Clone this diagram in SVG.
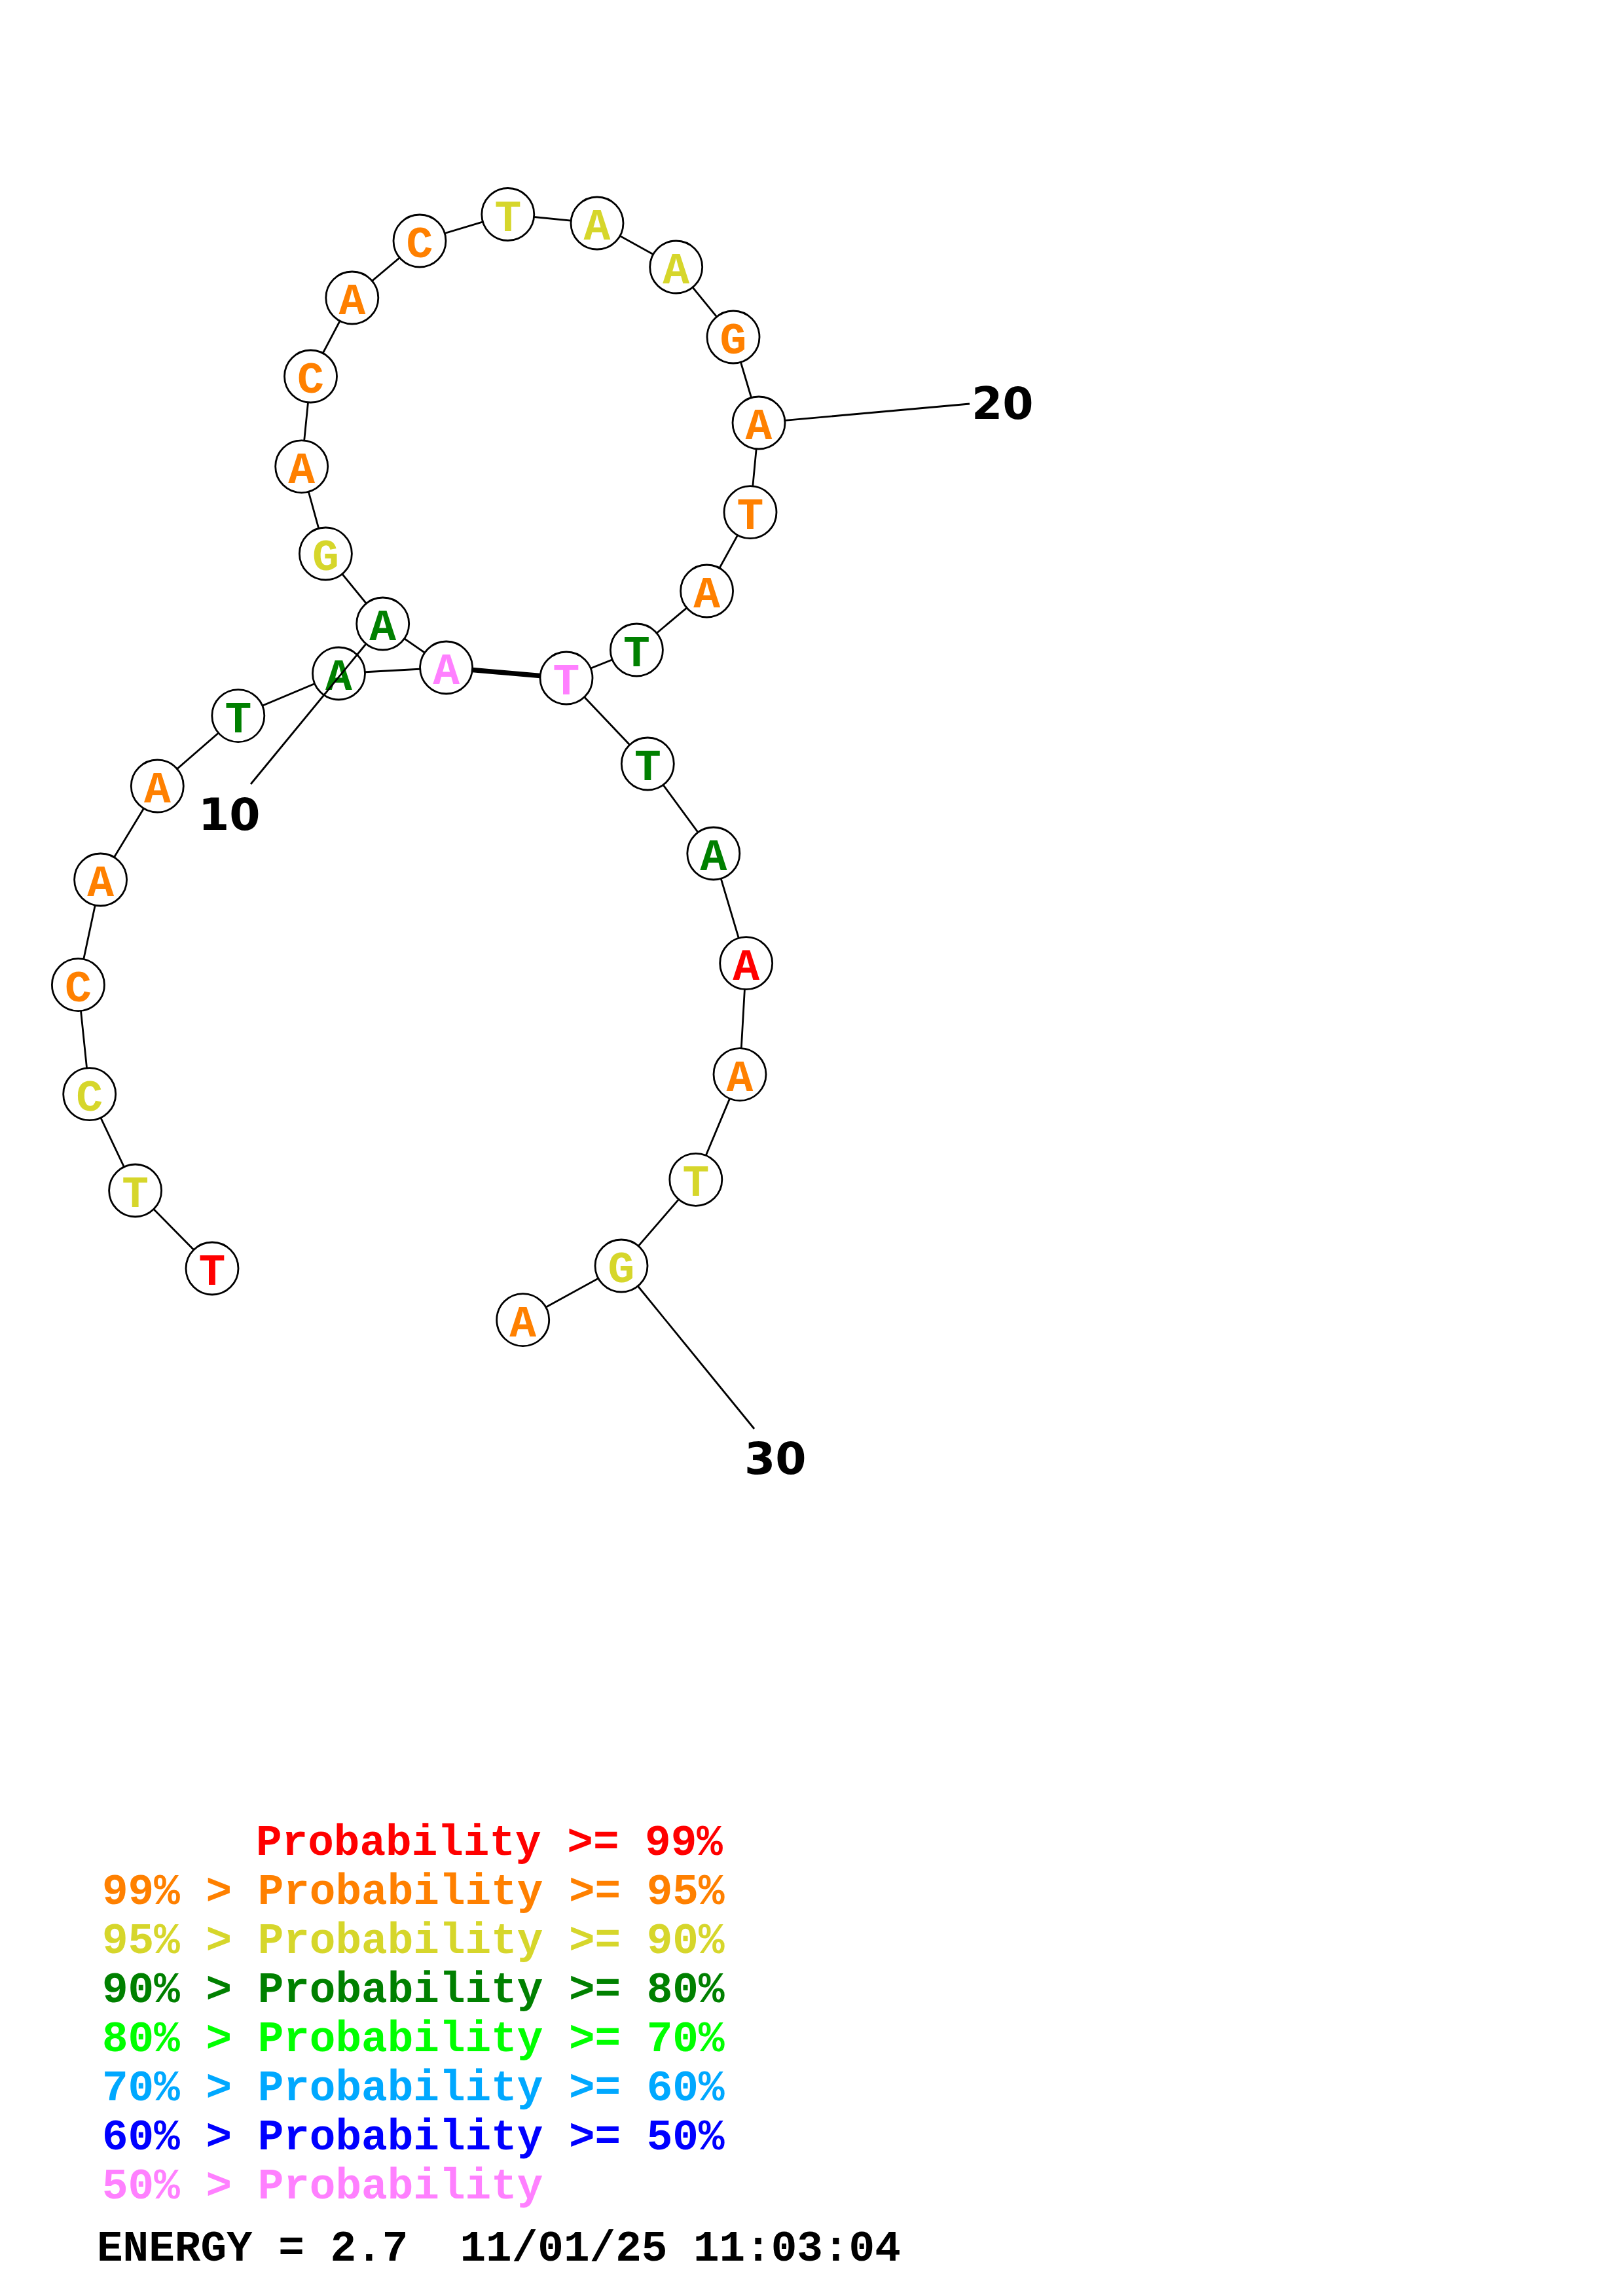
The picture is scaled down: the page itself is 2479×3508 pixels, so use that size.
<svg xmlns="http://www.w3.org/2000/svg" width="2479" height="3508" viewBox="0 0 2479 3508">
<style>
.bb{stroke:#000;stroke-width:2.8;fill:none}
.pair{stroke:#000;stroke-width:7.5;fill:none}
.nc{fill:#fff;stroke:#000;stroke-width:2.8}
.nt{font-family:"Liberation Mono","Courier New",monospace;font-weight:bold;font-size:68px;text-anchor:middle}
.lab{font-family:"DejaVu Sans","Liberation Sans",sans-serif;font-weight:bold;font-size:68px;fill:#000}
.leg{font-family:"Liberation Mono","Courier New",monospace;font-weight:bold;font-size:66px;white-space:pre}
.r{fill:#FF0000}.o{fill:#FF8000}.y{fill:#D6D62B}.g{fill:#008000}.lg{fill:#00FF00}.b1{fill:#00A8FF}.b2{fill:#0000FF}.p{fill:#FF80FF}.k{fill:#000}
</style>
<g id="connectors">
<polyline class="bb" points="324,1938 206.6,1819 136.7,1671.7 119.4,1504.7 153.6,1344 240.3,1201 363.8,1093.6 517.5,1029 681.6,1020 584.7,953 497.4,846 460.7,712.8 474.5,575 537.8,455 641,368 775.8,327.5 912,341 1032.7,408 1120,515 1159,646 1146,782.7 1079.6,903 972.4,993 865,1036 989.3,1167 1089.8,1304 1139.7,1471.7 1130,1641.6 1062.8,1802.3 949,1934 798.7,2016.6"/>
<line class="pair" x1="681.6" y1="1020" x2="865" y2="1036"/>
</g>
<g id="n1"><circle class="nc" cx="324" cy="1938" r="40"/><text class="nt r" x="324" y="1963">T</text></g>
<g id="n2"><circle class="nc" cx="206.6" cy="1819" r="40"/><text class="nt y" x="206.6" y="1844">T</text></g>
<g id="n3"><circle class="nc" cx="136.7" cy="1671.7" r="40"/><text class="nt y" x="136.7" y="1696.7">C</text></g>
<g id="n4"><circle class="nc" cx="119.4" cy="1504.7" r="40"/><text class="nt o" x="119.4" y="1529.7">C</text></g>
<g id="n5"><circle class="nc" cx="153.6" cy="1344" r="40"/><text class="nt o" x="153.6" y="1369">A</text></g>
<g id="n6"><circle class="nc" cx="240.3" cy="1201" r="40"/><text class="nt o" x="240.3" y="1226">A</text></g>
<g id="n7"><circle class="nc" cx="363.8" cy="1093.6" r="40"/><text class="nt g" x="363.8" y="1118.6">T</text></g>
<g id="n8"><circle class="nc" cx="517.5" cy="1029" r="40"/><text class="nt g" x="517.5" y="1054">A</text></g>
<g id="n9"><circle class="nc" cx="681.6" cy="1020" r="40"/><text class="nt p" x="681.6" y="1045">A</text></g>
<g id="n10"><circle class="nc" cx="584.7" cy="953" r="40"/><text class="nt g" x="584.7" y="978">A</text></g>
<g id="n11"><circle class="nc" cx="497.4" cy="846" r="40"/><text class="nt y" x="497.4" y="871">G</text></g>
<g id="n12"><circle class="nc" cx="460.7" cy="712.8" r="40"/><text class="nt o" x="460.7" y="737.8">A</text></g>
<g id="n13"><circle class="nc" cx="474.5" cy="575" r="40"/><text class="nt o" x="474.5" y="600">C</text></g>
<g id="n14"><circle class="nc" cx="537.8" cy="455" r="40"/><text class="nt o" x="537.8" y="480">A</text></g>
<g id="n15"><circle class="nc" cx="641" cy="368" r="40"/><text class="nt o" x="641" y="393">C</text></g>
<g id="n16"><circle class="nc" cx="775.8" cy="327.5" r="40"/><text class="nt y" x="775.8" y="352.5">T</text></g>
<g id="n17"><circle class="nc" cx="912" cy="341" r="40"/><text class="nt y" x="912" y="366">A</text></g>
<g id="n18"><circle class="nc" cx="1032.7" cy="408" r="40"/><text class="nt y" x="1032.7" y="433">A</text></g>
<g id="n19"><circle class="nc" cx="1120" cy="515" r="40"/><text class="nt o" x="1120" y="540">G</text></g>
<g id="n20"><circle class="nc" cx="1159" cy="646" r="40"/><text class="nt o" x="1159" y="671">A</text></g>
<g id="n21"><circle class="nc" cx="1146" cy="782.7" r="40"/><text class="nt o" x="1146" y="807.7">T</text></g>
<g id="n22"><circle class="nc" cx="1079.6" cy="903" r="40"/><text class="nt o" x="1079.6" y="928">A</text></g>
<g id="n23"><circle class="nc" cx="972.4" cy="993" r="40"/><text class="nt g" x="972.4" y="1018">T</text></g>
<g id="n24"><circle class="nc" cx="865" cy="1036" r="40"/><text class="nt p" x="865" y="1061">T</text></g>
<g id="n25"><circle class="nc" cx="989.3" cy="1167" r="40"/><text class="nt g" x="989.3" y="1192">T</text></g>
<g id="n26"><circle class="nc" cx="1089.8" cy="1304" r="40"/><text class="nt g" x="1089.8" y="1329">A</text></g>
<g id="n27"><circle class="nc" cx="1139.7" cy="1471.7" r="40"/><text class="nt r" x="1139.7" y="1496.7">A</text></g>
<g id="n28"><circle class="nc" cx="1130" cy="1641.6" r="40"/><text class="nt o" x="1130" y="1666.6">A</text></g>
<g id="n29"><circle class="nc" cx="1062.8" cy="1802.3" r="40"/><text class="nt y" x="1062.8" y="1827.3">T</text></g>
<g id="n30"><circle class="nc" cx="949" cy="1934" r="40"/><text class="nt y" x="949" y="1959">G</text></g>
<g id="n31"><circle class="nc" cx="798.7" cy="2016.6" r="40"/><text class="nt o" x="798.7" y="2041.6">A</text></g>
<g id="labels">
<line class="bb" x1="559.3" y1="983.5" x2="383" y2="1198"/>
<line class="bb" x1="1199" y1="642.4" x2="1481" y2="617"/>
<line class="bb" x1="974.3" y1="1965" x2="1152" y2="2183"/>
<text class="lab" x="303" y="1268">10</text>
<text class="lab" x="1484" y="640">20</text>
<text class="lab" x="1137" y="2252">30</text>
</g>
<g id="legend">
<text class="leg r" x="391" y="2834">Probability &gt;= 99%</text>
<text class="leg o" x="156" y="2909">99% &gt; Probability &gt;= 95%</text>
<text class="leg y" x="156" y="2984">95% &gt; Probability &gt;= 90%</text>
<text class="leg g" x="156" y="3059">90% &gt; Probability &gt;= 80%</text>
<text class="leg lg" x="156" y="3134">80% &gt; Probability &gt;= 70%</text>
<text class="leg b1" x="156" y="3209">70% &gt; Probability &gt;= 60%</text>
<text class="leg b2" x="156" y="3284">60% &gt; Probability &gt;= 50%</text>
<text class="leg p" x="156" y="3359">50% &gt; Probability</text>
<text class="leg k" x="148" y="3454">ENERGY = 2.7  11/01/25 11:03:04</text>
</g>
</svg>
